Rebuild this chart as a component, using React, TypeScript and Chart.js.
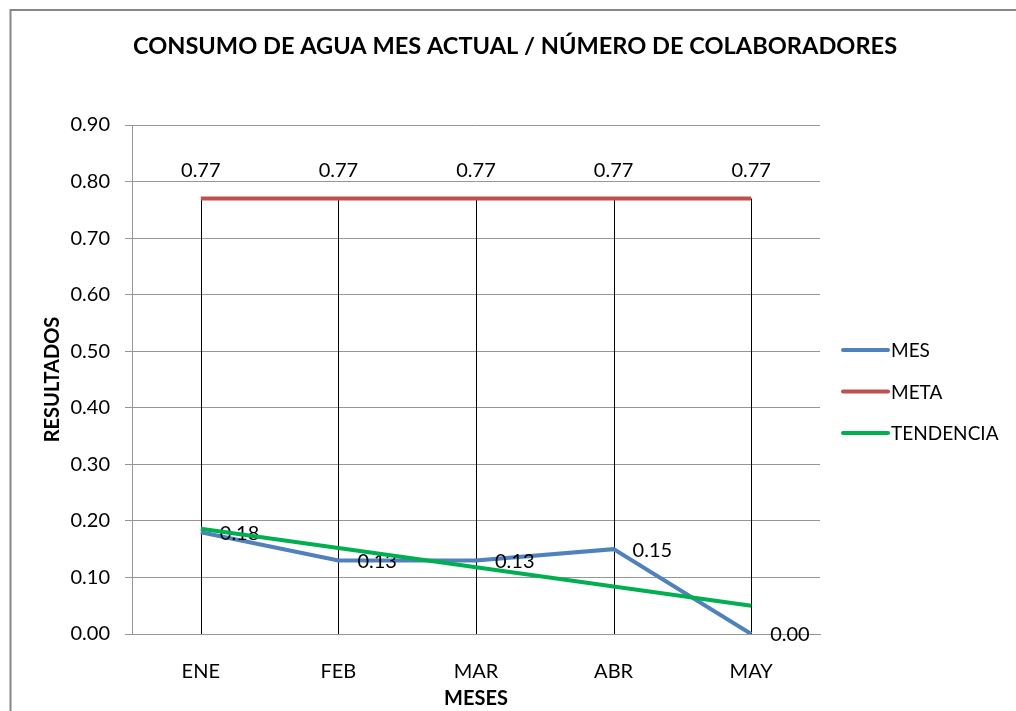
import React, { useEffect, useRef } from "react";
import { Chart, registerables } from "chart.js";

Chart.register(...registerables);

const TITLE = "CONSUMO DE AGUA MES ACTUAL / NÚMERO DE COLABORADORES";
const X_TITLE = "MESES";
const Y_TITLE = "RESULTADOS";
const CATEGORIES = ["ENE", "FEB", "MAR", "ABR", "MAY"];
const MES = [0.18, 0.13, 0.13, 0.15, 0.0];
const META = [0.77, 0.77, 0.77, 0.77, 0.77];
const TENDENCIA = [0.186, 0.152, 0.118, 0.084, 0.05];
const Y_MIN = 0;
const Y_MAX = 0.9;
const Y_STEP = 0.1;

const FONT = "Lato, 'Open Sans', sans-serif";
const BLUE = "#4F81BD";
const RED = "#C0504D";
const GREEN = "#00B050";
const GRID = "#969696";

const framePlugin = {
  id: "frame",
  beforeDraw(chart: any) {
    const { ctx, width, height } = chart;
    ctx.save();
    ctx.fillStyle = "#ffffff";
    ctx.fillRect(0, 0, width, height);
    ctx.strokeStyle = "#868686";
    ctx.lineWidth = 2;
    ctx.beginPath();
    ctx.moveTo(10.5, height + 2);
    ctx.lineTo(10.5, 10);
    ctx.lineTo(width + 2, 10);
    ctx.stroke();
    ctx.restore();
  },
};

const dropLinesPlugin = {
  id: "dropLines",
  beforeDatasetsDraw(chart: any) {
    const { ctx } = chart;
    const x = chart.scales.x;
    const y = chart.scales.y;
    ctx.save();
    ctx.strokeStyle = "#000000";
    ctx.lineWidth = 1;
    for (let i = 0; i < CATEGORIES.length; i++) {
      const top = Math.max(MES[i], META[i], TENDENCIA[i]);
      const px = Math.round(x.getPixelForValue(i)) + 0.5;
      ctx.beginPath();
      ctx.moveTo(px, y.getPixelForValue(top));
      ctx.lineTo(px, y.getPixelForValue(0));
      ctx.stroke();
    }
    ctx.restore();
  },
};

const labelsPlugin = {
  id: "valueLabels",
  afterDatasetDraw(chart: any, args: any) {
    const { ctx } = chart;
    const ds = chart.data.datasets[args.index];
    const meta = args.meta;
    if (ds.label === "TENDENCIA") return;
    ctx.save();
    ctx.font = `20px ${FONT}`;
    ctx.fillStyle = "#000000";
    meta.data.forEach((el: any, i: number) => {
      const v = (ds.data[i] as number).toFixed(2);
      if (ds.label === "MES") {
        ctx.textAlign = "left";
        ctx.textBaseline = "middle";
        ctx.fillText(v, el.x + 19, el.y + 1);
      } else {
        ctx.textAlign = "center";
        ctx.textBaseline = "middle";
        ctx.fillText(v, el.x, el.y - 28);
      }
    });
    ctx.restore();
  },
};

const titleLegendPlugin = {
  id: "titleLegend",
  afterDraw(chart: any) {
    const { ctx, chartArea } = chart;
    ctx.save();
    ctx.fillStyle = "#000000";
    ctx.font = `bold 23.6px ${FONT}`;
    ctx.textAlign = "center";
    ctx.textBaseline = "middle";
    ctx.fillText(TITLE, 515, 46);

    const items = chart.data.datasets
      .map((d: any) => d)
      .sort((a: any, b: any) => a.legendIndex - b.legendIndex);
    const cy = (chartArea.top + chartArea.bottom) / 2 + 12;
    ctx.font = `19px ${FONT}`;
    ctx.textAlign = "left";
    items.forEach((d: any, i: number) => {
      const yy = cy + (i - 1) * 41.5;
      const x0 = chartArea.right + 23;
      ctx.strokeStyle = d.borderColor;
      ctx.lineWidth = 4;
      ctx.lineCap = "round";
      ctx.beginPath();
      ctx.moveTo(x0, yy);
      ctx.lineTo(x0 + 45, yy);
      ctx.stroke();
      ctx.fillStyle = "#000000";
      ctx.fillText(d.label, x0 + 48, yy + 1);
    });
    ctx.restore();
  },
};

export default function App() {
  const ref = useRef<HTMLCanvasElement | null>(null);

  useEffect(() => {
    if (!ref.current) return;
    const chart = new Chart(ref.current, {
      type: "line",
      data: {
        labels: CATEGORIES,
        datasets: [
          {
            label: "MES",
            data: MES,
            borderColor: BLUE,
            backgroundColor: BLUE,
            borderWidth: 4,
            pointRadius: 0,
            tension: 0,
            order: 2,
            legendIndex: 0,
          } as any,
          {
            label: "META",
            data: META,
            borderColor: RED,
            backgroundColor: RED,
            borderWidth: 4,
            pointRadius: 0,
            tension: 0,
            order: 1,
            legendIndex: 1,
          } as any,
          {
            label: "TENDENCIA",
            data: TENDENCIA,
            borderColor: GREEN,
            backgroundColor: GREEN,
            borderWidth: 4,
            pointRadius: 0,
            tension: 0,
            order: 0,
            legendIndex: 2,
          } as any,
        ],
      },
      options: {
        responsive: false,
        animation: false,
        layout: { padding: { top: 125, left: 0, right: 196, bottom: 0 } },
        plugins: {
          legend: { display: false },
          title: { display: false },
          tooltip: { enabled: false },
        },
        scales: {
          x: {
            offset: true,
            grid: { display: false },
            border: { display: true, color: GRID, width: 1 },
            ticks: {
              color: "#000000",
              font: { family: FONT, size: 20 },
              padding: 18,
              maxRotation: 0,
            },
            title: {
              display: true,
              text: X_TITLE,
              color: "#000000",
              font: { family: FONT, size: 20, weight: "bold" },
              padding: { top: 0, bottom: 0 },
            },
            afterFit(scale: any) {
              scale.height = 77;
            },
          },
          y: {
            min: Y_MIN,
            max: Y_MAX,
            grid: { color: GRID, tickLength: 7, drawTicks: true, tickColor: GRID },
            border: { display: true, color: GRID, width: 1 },
            ticks: {
              stepSize: Y_STEP,
              color: "#000000",
              font: { family: FONT, size: 20 },
              padding: 15,
              callback: (v: any) => Number(v).toFixed(2),
            },
            title: {
              display: true,
              text: Y_TITLE,
              color: "#000000",
              font: { family: FONT, size: 20, weight: "bold" },
              padding: { top: 41, bottom: 0 },
            },
            afterFit(scale: any) {
              scale.width = 132;
            },
          },
        },
      },
      plugins: [framePlugin, dropLinesPlugin, labelsPlugin, titleLegendPlugin],
    });
    return () => chart.destroy();
  }, []);

  return (
    <canvas
      ref={ref}
      width={1016}
      height={711}
      style={{ position: "absolute", left: 0, top: 0, display: "block" }}
    />
  );
}
